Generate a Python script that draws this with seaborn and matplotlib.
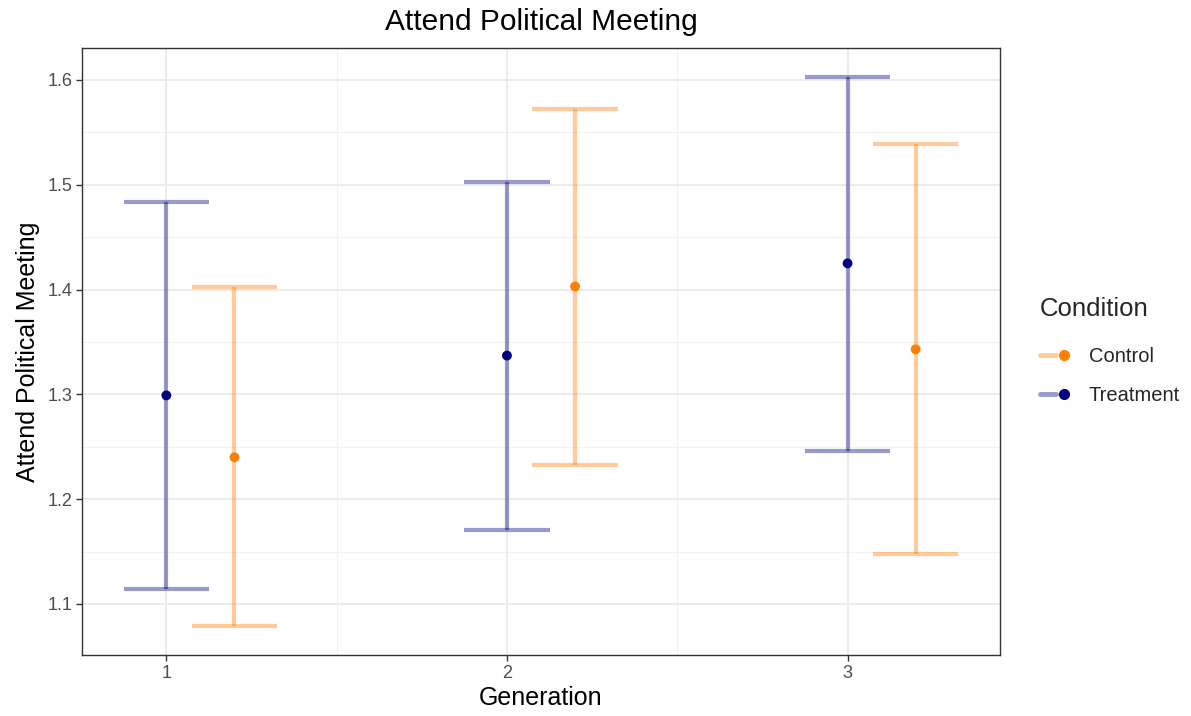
import numpy as np
import pandas as pd
import seaborn as sns
import matplotlib
matplotlib.use("Agg")
import matplotlib.pyplot as plt
from matplotlib.lines import Line2D
from matplotlib.legend_handler import HandlerTuple

# Estimates and confidence bounds per generation and condition
generation = [1, 2, 3]
treatment_mean = [1.299, 1.337, 1.425]
treatment_low = [1.114, 1.171, 1.246]
treatment_high = [1.484, 1.503, 1.603]
control_mean = [1.240, 1.403, 1.343]
control_low = [1.079, 1.233, 1.148]
control_high = [1.402, 1.572, 1.539]
conditions = ["Control", "Treatment"]

dodge = {"Treatment": 0.0, "Control": 0.2}
colors = {"Control": "#ff7f00", "Treatment": "#000080"}
cap_half = 0.125

rows = []
for cond, m, lo, hi in [("Treatment", treatment_mean, treatment_low, treatment_high),
                        ("Control", control_mean, control_low, control_high)]:
    for g, mm, ll, hh in zip(generation, m, lo, hi):
        rows.append(dict(Generation=g + dodge[cond], mean=mm, low=ll, high=hh, Condition=cond))
df = pd.DataFrame(rows)

sns.set_theme(style="white")
plt.rcParams["font.family"] = ["Liberation Sans", "DejaVu Sans"]

fig = plt.figure(figsize=(11.91, 7.16), dpi=100)
ax = fig.add_axes([0.0689, 0.0852, 0.8396 - 0.0689, 0.933 - 0.0852])

# grid
for v in [1.15, 1.25, 1.35, 1.45, 1.55]:
    ax.axhline(v, color="#f2f2f2", lw=0.8, zorder=0)
for v in [1.5, 2.5]:
    ax.axvline(v, color="#f2f2f2", lw=0.8, zorder=0)
for v in [1.1, 1.2, 1.3, 1.4, 1.5, 1.6]:
    ax.axhline(v, color="#ebebeb", lw=1.3, zorder=0)
for v in generation:
    ax.axvline(v, color="#ebebeb", lw=1.3, zorder=0)

# error bars with caps
for cond in ["Treatment", "Control"]:
    sub = df[df.Condition == cond]
    c = colors[cond]
    ax.vlines(sub.Generation, sub.low, sub.high, color=c, alpha=0.4, lw=3, zorder=2)
    ax.hlines(sub.low, sub.Generation - cap_half, sub.Generation + cap_half,
              color=c, alpha=0.4, lw=3, zorder=2)
    ax.hlines(sub.high, sub.Generation - cap_half, sub.Generation + cap_half,
              color=c, alpha=0.4, lw=3, zorder=2)

sns.scatterplot(data=df, x="Generation", y="mean", hue="Condition",
                palette=colors, s=50, edgecolor="none", legend=False, ax=ax, zorder=3)

ax.set_xlim(0.7525, 3.4475)
ax.set_ylim(1.0513, 1.6305)
ax.set_xticks(generation)
ax.set_xticklabels([str(g) for g in generation])
ax.set_yticks([1.1, 1.2, 1.3, 1.4, 1.5, 1.6])
ax.set_yticklabels(["1.1", "1.2", "1.3", "1.4", "1.5", "1.6"])
ax.tick_params(axis="both", which="major", length=4, width=1, color="#333333",
               labelsize=13, labelcolor="#4d4d4d", pad=3, direction="out")
ax.tick_params(bottom=True, left=True)
for sp in ax.spines.values():
    sp.set_color("#333333")
    sp.set_linewidth(1.0)

ax.set_xlabel("Generation", fontsize=18, color="black", labelpad=3)
ax.set_ylabel("Attend Political Meeting", fontsize=18, color="black", labelpad=5)
ax.set_title("Attend Political Meeting", fontsize=21.5, color="black", pad=13)

handles = []
for cond in conditions:
    c = colors[cond]
    ln = Line2D([0], [0], color=c, alpha=0.4, lw=3.5)
    pt = Line2D([0], [0], color=c, marker="o", markersize=7, linestyle="none")
    handles.append((ln, pt))
leg = fig.legend(handles, conditions, handler_map={tuple: HandlerTuple(ndivide=None, pad=0)},
                 title="Condition", loc="upper left", bbox_to_anchor=(0.861, 0.605),
                 frameon=False, fontsize=14.5, title_fontsize=18.5, handlelength=1.6,
                 labelspacing=1.0, alignment="left", handletextpad=0.85,
                 borderaxespad=0.3)
# a little more room between the legend title and its entries
leg._legend_box.sep = leg._legend_box.sep + 4

fig.savefig("out.png", dpi=100, facecolor="white")
